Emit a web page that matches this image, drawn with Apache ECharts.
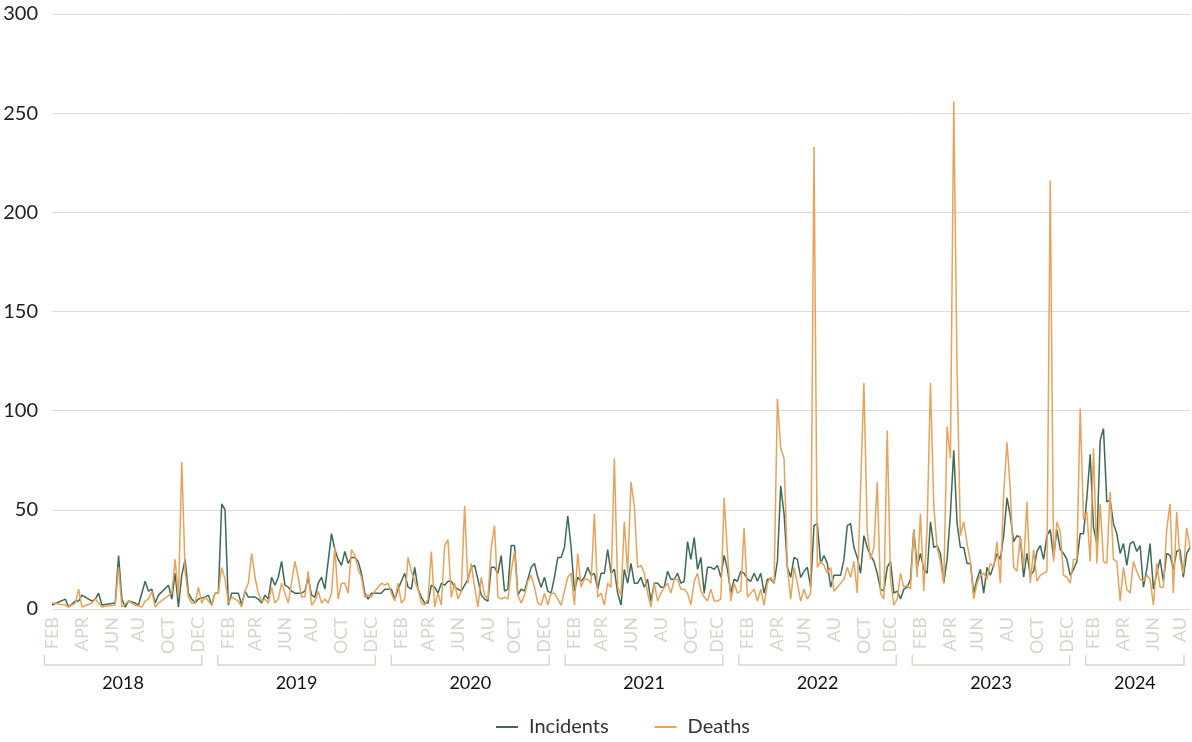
<!DOCTYPE html>
<html>
<head>
<meta charset="utf-8">
<script src="https://cdn.jsdelivr.net/npm/echarts@6/dist/echarts.min.js"></script>
<style>
  html, body { margin: 0; padding: 0; background: #fff; }
  #chart { width: 1192px; height: 742px; }
</style>
</head>
<body>
<div id="chart"></div>
<script>
// weekly series, first week starting 2018-02-01
const START = Date.UTC(2018, 1, 1);
const WEEK_COUNT = 343;

const incidents = [
  2, null, null, null, 5, 1, null, 4, 4, 7,
  null, null, 4, 5, 8, 2, null, null, null, 3,
  27, 5, 1, 4, null, 3, 2, null, 14, 9,
  10, 3, 7, null, null, 12, 5, 18, 1, 17,
  25, 8, 5, 3, 5, null, 6, 7, 2, 8,
  8, 53, 50, 2, 8, null, 8, 2, 9, 6,
  null, 6, 5, 3, 7, 5, 16, 12, 16, 24,
  12, 11, 9, 8, null, 8, 9, 16, 7, 6,
  13, 16, 10, null, 38, 30, 25, 22, 29, 23,
  26, 26, 24, 18, 8, 5, 8, 8, null,
  8, 10, 10, 10, 5, 10, 14, 18, 11, 10,
  21, 10, 6, 3, 3, 12, 11, 8, 13, 12,
  14, 14, 11, 10, 9, null, 15, 21, 22, 15,
  7, 5, 4, 21, 21, 18, 27, 9, 10, 32,
  32, 7, 10, 9, 15, 21, 23, 16, 11, 16,
  9, 8, 16, 26, 26, 31, 47, 31, 9, 16,
  14, 16, 21, 17, 18, 10, 18, 18, 30, 18,
  20, 8, 2, 20, 13, 23, 13, 13, 16, 11,
  15, 4, 13, 13, 11, 11, 19, 15, 15, 18,
  13, 14, 34, 25, 36, 20, 26, 8, 21, 21,
  20, 22, 16, 27, 20, 8, 15, 14, 19, 18,
  15, 14, 18, 14, 18, 8, 15, 15, 13, 24,
  62, 48, 21, 16, 26, 25, 16, 19, 21, 11,
  42, 43, 23, 27, 23, 11, 17, null,
  17, 25, 42, 43, 31, 26, 18, 37, 31, 27,
  24, 18, 10, 9, 21, 24, 8, 9, 5, 10,
  11, 15, 40, 21, 28, 20, 18, 44, 31, 32,
  28, 13, 25, 48, 80, 43, 31, 31, 23, 23,
  8, 15, 20, 8, 21, 17, 22, 28, 25, 37,
  56, 47, 34, 37, 36, 16, 28, 17, 19, 29,
  32, 25, 37, 40, 26, 40, 30, 28, 25, 17,
  20, 24, 38, 38, 56, 78, 41, 33, 85, 91,
  54, 55, 43, 38, 28, 33, 22, 33, 34, 29,
  32, 11, 20, 33, 10, 18, 25, 14, 28, 27,
  20, 29, 30, 16, 28, 31
];

const deaths = [
  3, null, null, null, 2, 1, null, 3, 10, 1,
  null, null, 3, 5, null, 1, null, null, null, 2,
  21, 1, null, 4, null, 2, null, 1, 4, 5,
  9, 1, 3, null, null, null, 8, 25, 6, 74,
  19, 6, 3, 3, 11, 3, 6, null, 2, 8,
  8, 21, 15, 3, 6, 5, 4, 1, 9, 13,
  28, 16, 8, 4, 5, 3, 11, 3, 5, 13,
  8, 3, null, 24, 16, 6, 6, 19, 2, 4,
  9, 3, 5, 3, 8, 31, 5, 13, 13, 8,
  30, 27, 20, 16, 6, 7, 6, 9, null,
  13, 12, 13, 8, 4, 13, 3, 5, 26, 19,
  14, 10, 3, 2, 5, 29, 1, 8, 2, 32,
  35, 6, 13, 5, 9, 52, 13, 23, 11, 1,
  16, 7, 5, 31, 42, 6, 5, 6, 5, 19,
  29, 7, 3, 7, 14, 17, 11, 3, 2, 8,
  2, 8, 8, 5, 2, 9, 16, 18, 2, 28,
  11, 15, 15, 13, 48, 6, 8, 2, 13, 11,
  76, 11, 7, 44, 18, 64, 52, 21, 22, 18,
  8, 1, 13, 4, 8, 11, 13, 8, 15, 15,
  10, 10, 8, 2, 14, 18, 9, 6, 4, 10,
  4, 4, 5, 56, 28, 4, 13, 8, 9, 41,
  6, 8, 10, 4, 10, 2, 13, 16, 13, 106,
  81, 76, 21, 5, 21, 13, 4, 10, 5, 8,
  233, 21, 24, 22, 18, 21, 9, null,
  13, 15, 21, 16, 24, 8, null, 114, 39, 25,
  31, 64, 8, 5, 90, 15, 2, 5, 18, 11,
  12, 10, 40, 16, 48, 9, 41, 114, 52, 31,
  24, 13, 92, 76, 256, 120, 37, 44, 33, 24,
  5, 13, 17, 18, 15, 23, 21, 34, 13, 58,
  84, 60, 21, 19, 37, 21, 54, 13, 30, 14,
  17, 18, 19, 216, 24, 44, 39, 17, 16, 13,
  25, 25, 101, 45, 49, 24, 81, 23, 53, 24,
  23, 59, 25, 24, 4, 21, 10, 8, 24, 19,
  15, 14, 17, 15, 2, 23, 11, 11, 40, 53,
  8, 49, 25, 18, 41, 31
];

const monthLabels = { 2: "FEB", 4: "APR", 6: "JUN", 8: "AU", 10: "OCT", 12: "DEC" };
const years = [2018, 2019, 2020, 2021, 2022, 2023, 2024];

const COL_INC = "#3b6b55";
const COL_DEA = "#e9a25a";
const GRID_COL = "#dfdbd3";
const FONT = "Lato, 'Open Sans', sans-serif";

const DAY = 86400000;
const weeks = [];
for (let i = 0; i < WEEK_COUNT; i++) {
  weeks.push(new Date(START + i * 7 * DAY).toISOString().slice(0, 10));
}
const monthOf = s => +s.slice(5, 7);

const chart = echarts.init(document.getElementById("chart"), null, { renderer: "canvas" });

chart.setOption({
  animation: false,
  grid: { left: 52, right: 2, top: 14, bottom: 133, containLabel: false },
  legend: {
    data: ["Incidents", "Deaths"],
    left: 491,
    top: 712,
    icon: "rect",
    itemWidth: 22,
    itemHeight: 2,
    itemGap: 46,
    textStyle: { fontFamily: FONT, fontSize: 20, color: "#333", padding: [0, 0, 0, 6] }
  },
  xAxis: {
    type: "category",
    data: weeks,
    boundaryGap: false,
    axisLine: { show: false },
    axisTick: { show: false },
    splitLine: { show: false },
    axisLabel: {
      rotate: 90,
      margin: 8,
      color: "#d9d5cc",
      fontFamily: FONT,
      fontSize: 18,
      interval: (idx, val) => {
        const m = monthOf(val);
        if (m % 2) return false;
        return idx === 0 || monthOf(weeks[idx - 1]) !== m;
      },
      formatter: val => monthLabels[monthOf(val)] || ""
    }
  },
  yAxis: {
    type: "value",
    min: 0,
    max: 300,
    interval: 50,
    axisLine: { show: false },
    axisTick: { show: false },
    axisLabel: { color: "#222", fontFamily: FONT, fontSize: 20, margin: 14 },
    splitLine: { lineStyle: { color: GRID_COL, width: 1 } }
  },
  series: [
    {
      name: "Incidents",
      type: "line",
      data: incidents,
      symbol: "none",
      connectNulls: true,
      itemStyle: { color: COL_INC },
      lineStyle: { color: COL_INC, width: 1.5 }
    },
    {
      name: "Deaths",
      type: "line",
      data: deaths,
      symbol: "none",
      connectNulls: true,
      itemStyle: { color: COL_DEA },
      lineStyle: { color: COL_DEA, width: 1.5 }
    }
  ]
});

// year brackets under the month labels, placed via the category scale
const x0 = chart.convertToPixel({ xAxisIndex: 0 }, 0);
const x1 = chart.convertToPixel({ xAxisIndex: 0 }, WEEK_COUNT - 1);
const yZero = chart.convertToPixel({ yAxisIndex: 0 }, 0);
const pxPerDay = (x1 - x0) / ((WEEK_COUNT - 1) * 7);
const dateX = t => x0 + (t - START) / DAY * pxPerDay;
const endT = START + (WEEK_COUNT - 1) * 7 * DAY;

const graphics = [];
years.forEach(y => {
  const yearEnd = Date.UTC(y + 1, 0, 1);
  const a = dateX(Date.UTC(y, 0, 1)) + 7;
  const b = yearEnd < endT ? dateX(yearEnd) - 9 : dateX(endT) - 6;
  const top = yZero + 46, bot = yZero + 56;
  graphics.push({
    type: "polyline",
    shape: { points: [[a, top], [a, bot], [b, bot], [b, top]] },
    style: { stroke: "#dcd8cf", lineWidth: 1.5, fill: null }
  });
  graphics.push({
    type: "text",
    x: (a + b) / 2,
    y: yZero + 74,
    style: {
      text: String(y),
      align: "center",
      verticalAlign: "middle",
      fontFamily: FONT,
      fontSize: 18,
      fill: "#111"
    }
  });
});
chart.setOption({ graphic: graphics });

window.addEventListener("resize", () => chart.resize());
</script>
</body>
</html>
